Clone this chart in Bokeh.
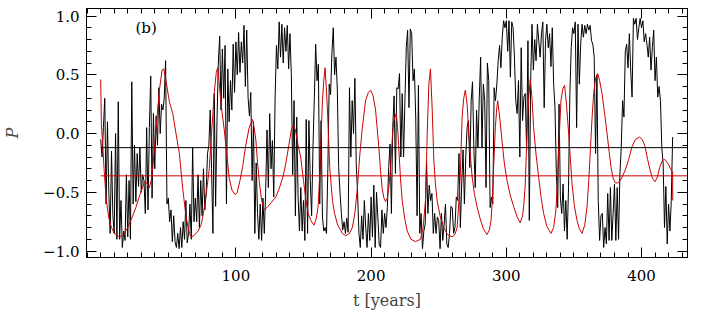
import numpy as np
from bokeh.plotting import figure
from bokeh.models import Range1d, LinearAxis, FixedTicker, Label
from bokeh.embed import file_html
from bokeh.resources import INLINE

# ---------------- data ----------------
years = list(range(424))
black_series = [
    -0.05, -0.2, 0.05, 0.3, -0.6, 0.1, -0.5, -0.85, -0.15, -0.7,
    -0.85, 0.0, -0.9, 0.27, -0.9, -0.57, -0.97, -0.83, -0.91, -0.35,
    -0.88, -0.4, -0.9, 0.44, -0.6, -0.1, -0.58, -0.17, -0.45, -0.12,
    -0.5, -0.35, -0.4, -0.68, 0.05, -0.65, 0.05, 0.49, -0.55, 0.17,
    -0.3, 0.15, -0.1, 0.39, 0.0, 0.25, 0.2, 0.3, 0.62, -0.6,
    -0.55, -0.75, -0.65, -0.92, -0.7, -0.92, -0.97, -0.85, -0.98, -0.8,
    -0.97, -0.75, -0.9, -0.57, -0.93, -0.85, -0.6, -0.9, -0.12, -0.75,
    -0.55, -0.75, -0.35, -0.8, -0.4, -0.7, -0.3, -0.65, -0.5, -0.17,
    -0.1, 0.2, -0.3, -0.85, 0.34, -0.62, 0.1, 0.6, 0.83, 0.2,
    0.72, 0.3, 0.75, -0.6, 0.55, 0.1, 0.45, 0.2, 0.76, 0.35,
    0.78, 0.5, 0.86, 0.52, 0.78, 0.6, 0.92, 0.4, 0.88, 0.31,
    0.15, 0.35, -0.4, 0.1, -0.85, -0.25, -0.68, -0.9, -0.6, -0.91,
    -0.55, -0.85, -0.5, 0.03, -0.46, 0.17, -0.3, -0.06, -0.54, 0.31,
    0.75, 0.55, 0.95, 0.65, 0.93, 0.6, 0.9, 0.7, 0.92, 0.55,
    0.85, 0.5, -0.35, 0.28, -0.7, 0.14, -0.54, -0.83, -0.46, -0.83,
    -0.57, -0.91, 0.12, -0.85, 0.11, -0.4, -0.7, -0.12, 0.3, 0.76,
    0.45, 0.59, -0.6, 0.11, -0.71, -0.83, -0.8, -0.85, -0.3, 0.42,
    0.33, 0.68, 0.9, 0.5, 0.65, 0.38, -0.29, -0.5, -0.68, -0.82,
    -0.75, -0.85, -0.72, -0.84, 0.39, -0.2, 0.28, 0.0, 0.47, -0.26,
    -0.51, -0.85, -0.97, -0.7, -0.9, -0.57, -0.8, -0.97, -0.68, -0.91,
    -0.54, -0.88, -0.44, -0.97, -0.5, -0.71, -0.95, -0.97, -0.65, -0.85,
    -0.68, -0.8, -0.63, -0.29, -0.09, -0.68, 0.05, 0.32, -0.34, 0.39,
    0.38, 0.51, -0.2, 0.34, -0.2, 0.28, 0.73, 0.88, 0.22, 0.89,
    0.85, 0.45, 0.55, 0.14, -0.7, 0.41, -0.85, -0.68, -0.98, -0.83,
    -0.77, -0.23, -0.68, -0.44, -0.57, -0.51, -0.85, -0.68, -0.85, -0.71,
    -0.74, -0.98, -0.68, -0.91, -0.77, -0.6, -0.94, -0.97, -0.85, -0.62,
    -0.63, -0.85, -0.8, -0.54, -0.57, -0.17, -0.8, -0.43, -0.14, -0.6,
    -0.2, 0.05, 0.11, -0.29, 0.28, 0.44, -0.12, -0.46, 0.2, -0.12,
    0.3, 0.65, -0.12, 0.42, 0.28, -0.46, 0.6, 0.45, -0.63, -0.54,
    -0.6, 0.39, 0.28, 0.42, 0.62, 0.75, 0.56, 0.82, 0.96, 0.9,
    0.96, 0.7, 0.96, 0.48, 0.95, 0.9, 0.65, 0.28, 0.17, 0.45,
    -0.2, 0.73, 0.11, 0.31, 0.34, -0.14, 0.79, -0.74, 0.45, 0.93,
    0.54, 0.8, 0.62, 0.93, 0.79, 0.65, 0.85, 0.95, 0.22, 0.79,
    0.93, 0.73, 0.85, 0.57, 0.9, 0.42, 0.22, -0.34, -0.63, 0.25,
    -0.55, -0.68, -0.43, -0.83, -0.57, -0.9, -0.46, 0.34, 0.73, 0.9,
    0.85, 0.95, 0.05, 0.93, 0.42, 0.76, 0.93, 0.82, 0.92, 0.85,
    0.93, 0.88, 0.92, 0.79, 0.76, 0.65, -0.17, 0.5, -0.57, -0.91,
    -0.7, -0.68, -0.97, -0.8, -0.94, -0.51, -0.91, -0.46, -0.91, -0.68,
    -0.43, -0.91, -0.46, -0.9, -0.35, -0.12, 0.28, 0.14, 0.7, 0.76,
    0.56, 0.85, 0.54, 0.31, 0.98, 0.93, 0.98, 0.8, 0.9, 0.98,
    0.9, 0.96, 0.78, 0.85, 0.76, 0.65, 0.82, 0.54, 0.73, 0.88,
    0.45, 0.65, 0.31, 0.4, 0.28, -0.12, -0.26, -0.8, -0.45, -0.94,
    -0.6, -0.83, -0.57, -0.03,
]

red_curve = [
    (0, 0.46), (0.5, 0.08), (1.5, -0.1), (2.5, -0.3), (4, -0.55), (6, -0.72),
    (8, -0.8), (10, -0.85), (13.9, -0.88), (17, -0.86), (20, -0.8), (23, -0.72),
    (26, -0.63), (29, -0.52), (32.4, -0.41), (34.5, -0.43), (36, -0.46),
    (37.3, -0.4), (38.5, -0.29), (41, 0.05), (43.4, 0.37), (45.4, 0.54),
    (46.6, 0.55), (48.3, 0.45), (50.8, 0.27), (53.3, 0.17), (55.7, 0.0),
    (58.2, -0.17), (60.6, -0.46), (63.1, -0.71), (65.6, -0.85), (66.8, -0.88),
    (69, -0.87), (72, -0.83), (74.2, -0.78), (76, -0.68), (78, -0.52),
    (80.3, -0.3), (81.5, -0.08), (82.8, 0.14), (84, 0.35), (85.5, 0.52),
    (86.5, 0.56), (87.5, 0.45), (89, 0.25), (91.4, 0.03), (93, -0.15),
    (95.1, -0.38), (97, -0.48), (99.5, -0.52), (101, -0.5), (103, -0.4),
    (104.9, -0.29), (107, -0.12), (109.8, 0.05), (112.3, 0.12), (113.5, 0.05),
    (114.8, -0.06), (116, -0.25), (117.2, -0.4), (119, -0.57), (120.9, -0.65),
    (123, -0.63), (126, -0.59), (129.5, -0.54), (132, -0.47), (135, -0.36),
    (137, -0.25), (139.3, -0.09), (141, 0.03), (142.5, 0.07), (144, 0.03),
    (146, -0.1), (147.9, -0.2), (150, -0.4), (151.7, -0.56), (153.5, -0.68),
    (155.4, -0.74), (157.8, -0.78), (159.5, -0.72), (160.8, -0.62), (162, -0.35),
    (162.7, -0.13), (164, 0.28), (165, 0.45), (165.9, 0.56), (166.8, 0.4),
    (167.7, 0.2), (169.4, -0.29), (171.4, -0.57), (173, -0.68), (175, -0.77),
    (178.7, -0.85), (181.2, -0.87), (184, -0.85), (186.1, -0.8), (188, -0.68),
    (189.8, -0.47), (191.5, -0.2), (193.5, 0.05), (195.9, 0.28), (198, 0.35),
    (199.6, 0.37), (201.5, 0.32), (203.3, 0.2), (205.8, -0.13), (207, -0.32),
    (208.2, -0.47), (209.5, -0.55), (210.7, -0.58), (212, -0.55), (213.2, -0.45),
    (214.4, -0.29), (215.6, -0.05), (216.8, 0.11), (218.6, 0.17), (219.6, 0.05),
    (220.5, -0.13), (221.7, -0.38), (223, -0.57), (224.8, -0.72), (226.7, -0.83),
    (229.5, -0.9), (232.8, -0.92), (236.5, -0.9), (238.5, -0.8), (240.2, -0.57),
    (241.5, 0.0), (242.7, 0.42), (243.9, 0.55), (245.2, 0.2), (246.4, -0.23),
    (247.5, -0.42), (248.8, -0.57), (251, -0.7), (253.7, -0.8), (256.5, -0.86),
    (259.9, -0.88), (262, -0.86), (263.6, -0.8), (264.8, -0.6), (266, -0.34),
    (267.3, 0.14), (268.5, 0.3), (269.7, 0.37), (271, 0.25), (272.2, 0.0),
    (273.5, -0.2), (274.7, -0.37), (276.5, -0.52), (278.3, -0.62), (280.5, -0.72),
    (283, -0.81), (285.7, -0.86), (287.5, -0.82), (288.7, -0.74), (289.7, -0.55),
    (290.6, -0.29), (291.9, 0.05), (292.8, 0.2), (293.6, 0.28), (295, 0.15),
    (296.8, -0.06), (298.5, -0.25), (300.5, -0.4), (303, -0.53), (305.4, -0.62),
    (308, -0.71), (310.3, -0.76), (312, -0.7), (313, -0.6), (314, -0.43),
    (315.3, 0.0), (316.5, 0.3), (317.7, 0.46), (319, 0.3), (320.2, 0.05),
    (322, -0.18), (323.9, -0.37), (325.8, -0.55), (327.6, -0.68), (330, -0.79),
    (333, -0.85), (335, -0.8), (336.7, -0.65), (337.8, -0.4), (338.7, -0.13),
    (340.4, 0.28), (341.8, 0.38), (343.1, 0.41), (344.5, 0.25), (346.1, 0.0),
    (347.4, -0.22), (348.6, -0.43), (350.4, -0.62), (352.3, -0.74), (354, -0.81),
    (356, -0.85), (358, -0.78), (359.7, -0.62), (361, -0.4), (362.2, -0.13),
    (363.5, 0.15), (364.6, 0.34), (366, 0.47), (367.6, 0.51), (369, 0.45),
    (370.8, 0.34), (372.7, 0.17), (374.5, 0.0), (376, -0.15), (377.5, -0.29),
    (379, -0.38), (380.6, -0.42), (382.5, -0.42), (384.3, -0.4), (386, -0.36),
    (388, -0.31), (390.5, -0.22), (393, -0.11), (395.5, -0.05), (398.6, -0.03),
    (400.5, -0.05), (402.6, -0.11), (404.5, -0.22), (406.3, -0.31), (408, -0.38),
    (410, -0.41), (411.8, -0.37), (413.4, -0.29), (415, -0.24), (416.6, -0.22),
    (418, -0.23), (419.8, -0.26), (421.5, -0.3), (423, -0.33), (423.1, -0.57),
]
red_t = [pt[0] for pt in red_curve]
red_v = [pt[1] for pt in red_curve]

level_black = -0.12
level_red = -0.36

x_major = [100, 200, 300, 400]
x_minor = list(range(-10, 440, 10))
y_major = [-1.0, -0.5, 0.0, 0.5, 1.0]
y_minor = [round(v, 1) for v in np.arange(-1.0, 1.05, 0.1)]
y_labels = {-1.0: "\u22121.0", -0.5: "\u22120.5", 0.0: "0.0", 0.5: "0.5", 1.0: "1.0"}

X0, X1 = -10.5, 434
Y0, Y1 = -1.055, 1.064

FONT = "DejaVu Serif"
FSIZE = "15px"

p = figure(width=700, height=312, x_range=Range1d(X0, X1), y_range=Range1d(Y0, Y1),
           output_backend="svg", toolbar_location=None,
           min_border_left=77, min_border_right=13, min_border_top=8, min_border_bottom=10)
p.xgrid.visible = False
p.ygrid.visible = False
p.outline_line_color = "black"
p.background_fill_color = "white"
p.border_fill_color = "white"

def style_axis(ax, ticker, show_labels, ticks):
    ax.ticker = ticker
    ax.axis_line_color = "black"
    ax.axis_line_width = 1
    ax.major_tick_in = 10
    ax.major_tick_out = 0
    ax.minor_tick_in = 5
    ax.minor_tick_out = 0
    ax.major_tick_line_color = "black"
    ax.minor_tick_line_color = "black"
    ax.major_label_text_font = FONT
    ax.major_label_text_color = "black"
    ax.major_label_text_font_size = FSIZE
    if not show_labels:
        ax.major_label_overrides = {t: "" for t in ticks}
        ax.major_label_standoff = 0

style_axis(p.xaxis[0], FixedTicker(ticks=x_major, minor_ticks=x_minor), True, x_major)
style_axis(p.yaxis[0], FixedTicker(ticks=y_major, minor_ticks=y_minor), True, y_major)
p.xaxis[0].major_label_standoff = 12
p.xaxis[0].axis_label = "t [years]"
p.xaxis[0].axis_label_text_font = FONT
p.xaxis[0].axis_label_text_font_style = "normal"
p.xaxis[0].axis_label_text_font_size = "16px"
p.xaxis[0].axis_label_standoff = 7
p.yaxis[0].major_label_standoff = 7
p.yaxis[0].major_label_overrides = y_labels
p.yaxis[0].axis_label = "P"
p.yaxis[0].axis_label_text_font = FONT
p.yaxis[0].axis_label_text_font_style = "italic"
p.yaxis[0].axis_label_text_font_size = "16px"
p.yaxis[0].axis_label_standoff = 18

top = LinearAxis()
style_axis(top, FixedTicker(ticks=x_major, minor_ticks=x_minor), False, x_major)
p.add_layout(top, "above")
right = LinearAxis()
style_axis(right, FixedTicker(ticks=y_major, minor_ticks=y_minor), False, y_major)
p.add_layout(right, "right")

# series
p.line(years, black_series, line_color="black", line_width=1)
p.line(red_t, red_v, line_color="#cc0000", line_width=1)
p.segment(x0=[years[0]], y0=[level_black], x1=[X1], y1=[level_black], line_color="black", line_width=1)
p.segment(x0=[years[0]], y0=[level_red], x1=[X1], y1=[level_red], line_color="#cc0000", line_width=1)

# panel tag
p.add_layout(Label(x=33.6, y=0.9, text="(b)", text_font=FONT, text_font_size=FSIZE,
                   text_align="center", text_baseline="middle", text_color="black"))

open("out.html", "w").write(file_html(p, INLINE))
